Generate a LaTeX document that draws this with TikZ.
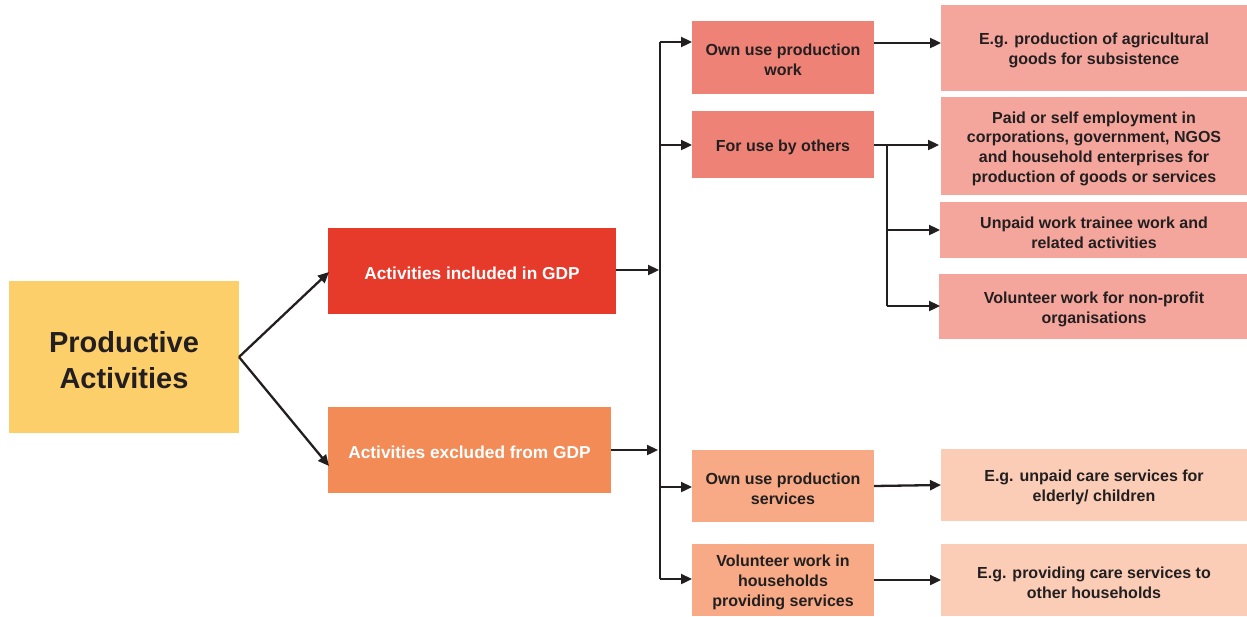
\documentclass[tikz,border=0pt]{standalone}
\usepackage{fontspec}
\setmainfont{Liberation Sans}
\usetikzlibrary{arrows.meta}
\definecolor{cyellow}{HTML}{FDCF6B}
\definecolor{cred}{HTML}{E63A2A}
\definecolor{corange}{HTML}{F38B56}
\definecolor{csalmon}{HTML}{EF8276}
\definecolor{cpeach}{HTML}{F7AA85}
\definecolor{cpink}{HTML}{F5A69C}
\definecolor{clight}{HTML}{FBCDB7}
\definecolor{ctext}{HTML}{231F20}
\begin{document}
\begin{tikzpicture}[x=1pt,y=-1pt,
  box/.style={draw=none,inner sep=0pt,align=center,yshift=-2.5pt,font=\bfseries\fontsize{16}{19.7}\selectfont,text=ctext},
  wbox/.style={box,text=white,font=\bfseries\fontsize{17.3}{20}\selectfont},
  arr/.style={-{Triangle[length=11pt,width=10pt]},line width=2.3pt,draw=ctext},
  ln/.style={line width=2.3pt,draw=ctext}]
\useasboundingbox (0,0) rectangle (1247,616);
% boxes
\fill[cyellow] (9,281) rectangle (239,433);
\node[box,font=\bfseries\fontsize{29}{36}\selectfont] (pa) at (124,358) {Productive\\Activities};
\coordinate (paR) at (239,357);
\fill[cred] (328,228) rectangle (616,314);
\node[wbox] (inc) at (472,271) {Activities included in GDP};
\fill[corange] (328,407) rectangle (611,493);
\node[wbox] (exc) at (469.5,450) {Activities excluded from GDP};
\fill[csalmon] (692,21) rectangle (874,94);
\node[box] (ow) at (783,57.5) {Own use production\\work};
\fill[csalmon] (692,111) rectangle (874,178);
\node[box] (fo) at (783,145) {For use by others};
\fill[cpeach] (692,450) rectangle (874,522);
\node[box] (os) at (783,486) {Own use production\\services};
\fill[cpeach] (692,544) rectangle (874,616);
\node[box] (vh) at (783,580) {Volunteer work in\\households\\providing services};
\fill[cpink] (941,5) rectangle (1247,91);
\node[box] (r1) at (1094,48) {E.g. production of agricultural\\goods for subsistence};
\fill[cpink] (941,97) rectangle (1247,195);
\node[box] (r2) at (1094,146) {Paid or self employment in\\corporations, government, NGOS\\and household enterprises for\\production of goods or services};
\fill[cpink] (940,202) rectangle (1247,258);
\node[box] (r3) at (1094,230) {Unpaid work trainee work and\\related activities};
\fill[cpink] (939,274) rectangle (1247,339);
\node[box] (r4) at (1094,307) {Volunteer work for non-profit\\organisations};
\fill[clight] (941,449) rectangle (1247,521);
\node[box] (r5) at (1094,485) {E.g. unpaid care services for\\elderly/ children};
\fill[clight] (941,544) rectangle (1247,616);
\node[box] (r6) at (1094,580) {E.g. providing care services to\\other households};
% connectors
\coordinate (incT) at (329,272);
\coordinate (excT) at (329,466);
\draw[arr] (paR) -- (incT);
\draw[arr] (paR) -- (excT);
\coordinate (vtop) at (660,42);
\coordinate (vbot) at (660,579);
\draw[ln] (vtop) -- (vbot);
\draw[arr] (616,270) -- (659,270);
\draw[arr] (611,450) -- (658,450);
\draw[arr] (vtop) -- (692,42);
\draw[arr] (660,145) -- (692,145);
\draw[arr] (660,487) -- (692,487);
\draw[arr] (vbot) -- (692,579);
\draw[arr] (874,43) -- (941,43);
\draw[arr] (874,145) -- (939,145);
\draw[ln] (887,145) -- (887,306);
\draw[arr] (887,230) -- (940,230);
\draw[arr] (887,306) -- (940,306);
\draw[arr] (874,486) -- (941,485);
\draw[arr] (874,580) -- (941,580);
\end{tikzpicture}
\end{document}
